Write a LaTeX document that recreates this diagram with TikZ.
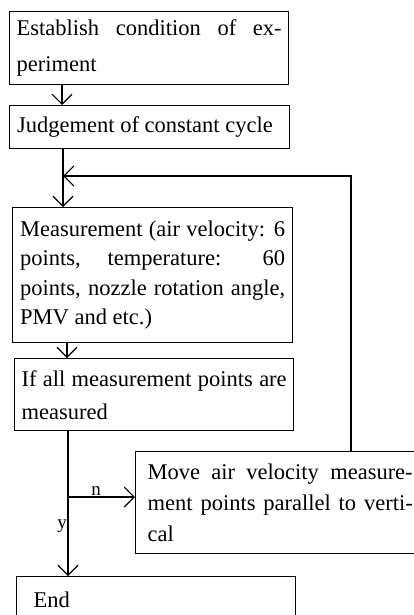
\documentclass[tikz,border=0pt]{standalone}
\usepackage{fontspec}
\setmainfont{Liberation Serif}
\usetikzlibrary{arrows.meta}
\hbadness=10000
\hfuzz=6pt
\begin{document}
\begin{tikzpicture}[x=1pt,y=-1pt,
  box/.style={draw, line width=1.4pt, anchor=north west, text width=265pt,
    inner xsep=7pt, inner ysep=0pt, align=justify},
  arr/.style={line width=1.1pt, -{Straight Barb[length=10pt,width=20pt,line width=1.1pt]}},
  lbl/.style={font=\fontsize{19}{20}\selectfont, inner sep=1pt}]
\useasboundingbox (0,0) rectangle (414,615);
\clip (0,0) rectangle (414,615);
\fill[white] (0,0) rectangle (414,615);

\node[box, minimum height=73pt, font=\fontsize{22.5}{36}\selectfont] (b1) at (9,11)
  {Establish condition of ex-\linebreak periment};
\node[box, minimum height=43pt, font=\fontsize{22.5}{30}\selectfont, inner xsep=7.5pt] (b2) at (9,105)
  {Judgement of constant cycle};
\node[box, minimum height=135pt, font=\fontsize{22.5}{29.5}\selectfont, inner xsep=7.5pt] (b3) at (12,207)
  {Measurement (air velocity: 6\linebreak points, temperature: 60\linebreak points, nozzle rotation angle,\linebreak PMV and etc.)};
\node[box, minimum height=72pt, font=\fontsize{22.5}{33}\selectfont] (b4) at (14,358)
  {If all measurement points are\linebreak measured};
\node[box, minimum height=102pt, font=\fontsize{22.5}{31}\selectfont, inner xsep=12pt] (b5) at (135,451)
  {Move air velocity measure-\linebreak ment points parallel to verti-\linebreak cal};
\node[box, minimum height=46pt, font=\fontsize{22.5}{30}\selectfont] (e) at (16,576)
  {\hspace*{10pt}End};

\coordinate (s1) at (62,0);
\coordinate (s2) at (63,0);
\coordinate (s3) at (67,0);
\coordinate (s4) at (68,0);
\coordinate (lp) at (351,176);
\coordinate (br) at (68,497);

\draw[arr] (b1.south -| s1) -- (b2.north -| s1);
\draw[arr] (b2.south -| s2) -- (b3.north -| s2);
\draw[arr] (b5.north -| lp) -- (lp) -- (lp -| s2);
\draw[arr] (b3.south -| s3) -- (b4.north -| s3);
\draw[arr] (b4.south -| s4) -- (e.north -| s4);
\draw[arr] (br) -- (br -| b5.west) node[lbl, pos=0.42, above] (nlab) {n};
\node[lbl, left] (ylab) at (68,526) {y};
\end{tikzpicture}
\end{document}
